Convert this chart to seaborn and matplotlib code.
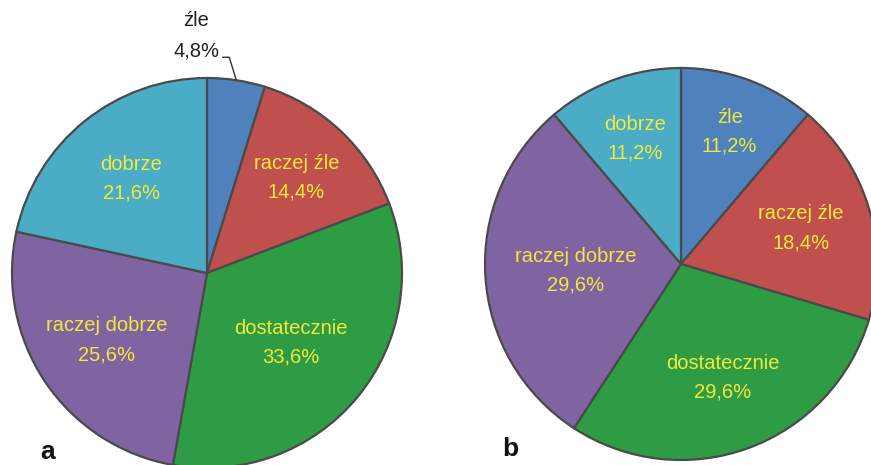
import matplotlib
matplotlib.use('Agg')
import matplotlib.pyplot as plt
import numpy as np
import seaborn as sns

# data
categories = ['źle', 'raczej źle', 'dostatecznie', 'raczej dobrze', 'dobrze']
share_a = [4.8, 14.4, 33.6, 25.6, 21.6]
share_b = [11.2, 18.4, 29.6, 29.6, 11.2]

# =========================
# STYLE
# =========================
sns.set_theme(style='white')
plt.rcParams['font.family'] = ['Liberation Sans', 'DejaVu Sans']
palette = sns.color_palette(['#4F81BD', '#C0504D', '#2E9B45', '#8064A2', '#4BACC6'])
label_color = '#F2E93A'

W, H = 871, 465
fig = plt.figure(figsize=(W / 100, H / 100), dpi=100)
ax = fig.add_axes([0, 0, 1, 1])


def fmt(v):
    return f'{v:.1f}'.replace('.', ',') + '%'


def draw_pie(values, center, radius, label_r):
    wedges, _ = ax.pie(
        values,
        colors=palette,
        startangle=90,
        counterclock=False,
        center=center,
        radius=radius,
        wedgeprops=dict(edgecolor='#4a4a4a', linewidth=1.6),
    )
    for w, name, v, lr in zip(wedges, categories, values, label_r):
        ang = np.deg2rad((w.theta1 + w.theta2) / 2)
        if lr is None:
            # small slice: label outside with a leader line
            edge = (center[0] + radius * np.cos(ang), center[1] + radius * np.sin(ang))
            ax.annotate(
                f'{name}\n{fmt(v)}',
                xy=edge,
                xytext=(edge[0] - 40, edge[1] + 20),
                ha='center', va='bottom', fontsize=14.5, color='#222222',
                linespacing=1.75, multialignment='center',
                arrowprops=dict(arrowstyle='-', color='#333333', lw=1,
                                shrinkA=0, shrinkB=0, relpos=(1, 0.06),
                                connectionstyle='angle,angleA=0,angleB=107,rad=0'),
            )
            continue
        x = center[0] + lr * radius * np.cos(ang)
        y = center[1] + lr * radius * np.sin(ang)
        ax.text(x, y, f'{name}\n{fmt(v)}', ha='center', va='center',
                fontsize=14.5, color=label_color, linespacing=1.65)


# =========================
# PIES
# =========================
draw_pie(share_a, center=(207, H - 273), radius=195,
         label_r=[None, 0.67, 0.56, 0.62, 0.62])
draw_pie(share_b, center=(681, H - 264), radius=196,
         label_r=[0.72, 0.64, 0.62, 0.54, 0.68])

ax.text(48, H - 459, 'a', ha='center', va='baseline', fontsize=19, fontweight='bold', color='#111111')
ax.text(510, H - 456, 'b', ha='center', va='baseline', fontsize=19, fontweight='bold', color='#111111')

ax.set_xlim(0, W)
ax.set_ylim(0, H)
ax.set_aspect('equal')
ax.axis('off')

fig.savefig('out.png', dpi=100)
